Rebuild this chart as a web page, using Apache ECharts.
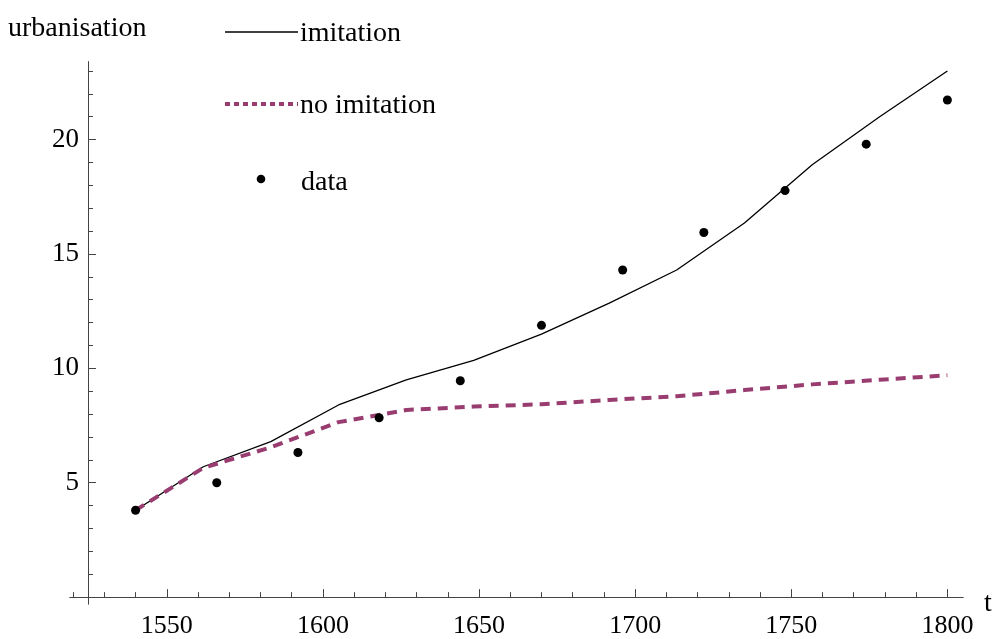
<!DOCTYPE html>
<html><head><meta charset="utf-8">
<script src="https://cdn.jsdelivr.net/npm/echarts@6/dist/echarts.min.js"></script>
<style>html,body{margin:0;padding:0;background:#fff}#c{width:995px;height:639px}</style>
</head><body><div id="c"></div>
<script>
// model grid (years) for the two model curves
const modelYears = [1540, 1561.7, 1583.3, 1605, 1626.7, 1648.3, 1670, 1691.7, 1713.3, 1735, 1756.7, 1778.3, 1800];
const imitation   = [3.8, 5.7, 6.8, 8.4, 9.5, 10.35, 11.5, 12.85, 14.3, 16.35, 18.9, 21.0, 23.0];
const noImitation = [3.8, 5.65, 6.55, 7.65, 8.18, 8.33, 8.43, 8.62, 8.78, 9.05, 9.3, 9.5, 9.7];
// observed data
const dataYears = [1540, 1566, 1592, 1618, 1644, 1670, 1696, 1722, 1748, 1774, 1800];
const dataVals  = [3.80, 5.0, 6.32, 7.84, 9.46, 11.88, 14.30, 15.94, 17.77, 19.80, 21.73];
// ticks
const xMajor = [1550, 1600, 1650, 1700, 1750, 1800];
const xMinor = [1520,1530,1540,1560,1570,1580,1590,1610,1620,1630,1640,1660,1670,1680,1690,1710,1720,1730,1740,1760,1770,1780,1790];
const yMajor = [5, 10, 15, 20];
const yMinor = [1,2,3,4,6,7,8,9,11,12,13,14,16,17,18,19,21,22,23];

const FONT = 'Liberation Serif';
const AX = '#444';
const PURPLE = '#993D71';

const zip = (a, b) => a.map((v, i) => [v, b[i]]);
const plain = v => String(v);

const baseX = {
  type: 'value', min: 1519, max: 1805, position: 'bottom',
  axisLine: { show: true, onZero: true, lineStyle: { color: AX, width: 1 } },
  splitLine: { show: false }
};
const baseY = {
  type: 'value', min: -0.3, max: 23.4, position: 'left', offset: -18,
  axisLine: { show: true, onZero: false, lineStyle: { color: AX, width: 1 } },
  splitLine: { show: false }
};

const chart = echarts.init(document.getElementById('c'), null, { renderer: 'canvas' });
chart.setOption({
  animation: false,
  backgroundColor: '#fff',
  grid: { left: 70, right: 32, top: 61.8, bottom: 32.1, containLabel: false },
  xAxis: [
    Object.assign({}, baseX, {
      axisTick: { show: true, inside: true, length: 8, customValues: xMajor, lineStyle: { color: AX } },
      axisLabel: { show: true, customValues: xMajor, formatter: plain, margin: 9, fontFamily: FONT, fontSize: 26, color: '#000' }
    }),
    Object.assign({}, baseX, {
      axisTick: { show: true, inside: true, length: 5, customValues: xMinor, lineStyle: { color: AX } },
      axisLabel: { show: false }
    })
  ],
  yAxis: [
    Object.assign({}, baseY, {
      axisTick: { show: true, inside: true, length: 8, customValues: yMajor, lineStyle: { color: AX } },
      axisLabel: { show: true, customValues: yMajor, formatter: plain, margin: 9, fontFamily: FONT, fontSize: 27, color: '#000' }
    }),
    Object.assign({}, baseY, {
      axisTick: { show: true, inside: true, length: 5, customValues: yMinor, lineStyle: { color: AX } },
      axisLabel: { show: false }
    })
  ],
  series: [
    { name: 'imitation', type: 'line', data: zip(modelYears, imitation), showSymbol: false, symbol: 'none',
      lineStyle: { color: '#000', width: 1.3 }, z: 2 },
    { name: 'no imitation', type: 'line', data: zip(modelYears, noImitation), showSymbol: false, symbol: 'none',
      lineStyle: { color: PURPLE, width: 4, type: [10, 7] }, z: 3 },
    { name: 'data', type: 'scatter', data: zip(dataYears, dataVals), symbol: 'circle', symbolSize: 9,
      itemStyle: { color: '#000', opacity: 1 }, z: 4 }
  ],
  graphic: [
    { type: 'text', left: 8, top: 15, style: { text: 'urbanisation', font: '28px "Liberation Serif"', fill: '#000' } },
    { type: 'text', left: 984, top: 590, style: { text: 't', font: '28px "Liberation Serif"', fill: '#000' } },
    { type: 'line', shape: { x1: 225, y1: 32, x2: 298, y2: 32 }, style: { stroke: '#000', lineWidth: 1.3 } },
    { type: 'text', left: 300, top: 20, style: { text: 'imitation', font: '28px "Liberation Serif"', fill: '#000' } },
    { type: 'line', shape: { x1: 225, y1: 104, x2: 298, y2: 104 }, style: { stroke: PURPLE, lineWidth: 4, lineDash: [5, 4] } },
    { type: 'text', left: 300, top: 92, style: { text: 'no imitation', font: '28px "Liberation Serif"', fill: '#000' } },
    { type: 'circle', shape: { cx: 261, cy: 179, r: 4.3 }, style: { fill: '#000' } },
    { type: 'text', left: 301, top: 169, style: { text: 'data', font: '28px "Liberation Serif"', fill: '#000' } }
  ]
});
</script></body></html>
